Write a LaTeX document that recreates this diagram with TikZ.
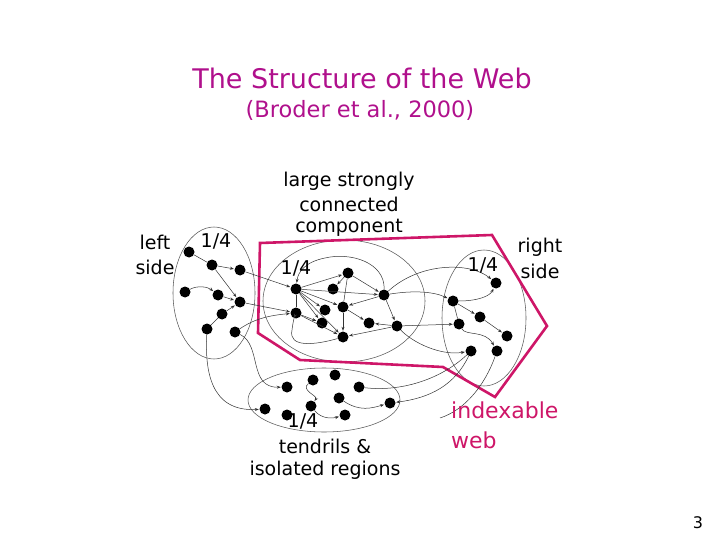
\documentclass[tikz,border=0pt]{standalone}
\usepackage{fontspec}
\setmainfont{DejaVu Sans}
\usetikzlibrary{arrows.meta}
\definecolor{titlecol}{RGB}{176,16,140}
\definecolor{webcol}{RGB}{206,22,104}
\tikzset{
  dot/.style={circle,fill=black,inner sep=0pt,minimum size=11pt},
  lnk/.style={draw=black!80,line width=0.5pt,-{Stealth[length=4pt,width=3pt]},shorten >=0.5pt},
  pln/.style={draw=black!80,line width=0.5pt},
  ring/.style={draw=black!65,line width=0.55pt},
  lbl/.style={inner sep=0pt,font=\fontsize{19}{22}\selectfont},
  ttl/.style={inner sep=0pt,text=titlecol},
}
\begin{document}
\begin{tikzpicture}[x=1pt,y=-1pt]
\useasboundingbox (0,0) rectangle (720,540);
% titles
\node[ttl,font=\fontsize{27}{30}\selectfont] (title) at (362,78) {The Structure of the Web};
\node[ttl,font=\fontsize{22.5}{26}\selectfont] (sub) at (360,110) {(Broder et al., 2000)};
% ellipses
\draw[ring] (214,293) ellipse [x radius=41,y radius=66];
\draw[ring] (344,301) ellipse [x radius=81,y radius=61];
\draw[ring] (484,318) ellipse [x radius=42,y radius=68];
\draw[ring] (324,400) ellipse [x radius=76,y radius=32];
% indexable web polygon
\draw[webcol,line width=2.6pt,line join=miter] (258,333) -- (260,243) -- (492,235) -- (547,326) -- (495,397) -- (443,367) -- (300,360) -- cycle;
% nodes: left
\node[dot] (L1) at (189,252) {};
\node[dot] (L2) at (212,265) {};
\node[dot] (L3) at (240,270) {};
\node[dot] (L4) at (185,292) {};
\node[dot] (L5) at (218,295) {};
\node[dot] (L6) at (240,302) {};
\node[dot] (L7) at (222,314) {};
\node[dot] (L8) at (207,329) {};
\node[dot] (L9) at (235,332) {};
% SCC
\node[dot] (S1) at (296,289) {};
\node[dot] (S2) at (296,313) {};
\node[dot] (S3) at (333,289) {};
\node[dot] (S4) at (348,273) {};
\node[dot] (S5) at (384,295) {};
\node[dot] (S6) at (343,307) {};
\node[dot] (S7) at (325,310) {};
\node[dot] (S8) at (322,323) {};
\node[dot] (S9) at (343,337) {};
\node[dot] (S10) at (369,323) {};
\node[dot] (S11) at (397,326) {};
% right
\node[dot] (R1) at (496,283) {};
\node[dot] (R2) at (453,301) {};
\node[dot] (R3) at (480,317) {};
\node[dot] (R4) at (459,324) {};
\node[dot] (R5) at (507,336) {};
\node[dot] (R6) at (471,351) {};
\node[dot] (R7) at (497,351) {};
% tendrils
\node[dot] (T1) at (287,387) {};
\node[dot] (T2) at (313,380) {};
\node[dot] (T3) at (335,375) {};
\node[dot] (T4) at (359,387) {};
\node[dot] (T5) at (265,409) {};
\node[dot] (T6) at (287,415) {};
\node[dot] (T7) at (311,406) {};
\node[dot] (T8) at (339,398) {};
\node[dot] (T9) at (345,415) {};
\node[dot] (T10) at (390,403) {};
\coordinate (E1) at (440,418);
% left edges
\draw[pln] (L1) -- (L2);
\draw[lnk] (L2) -- (L3);
\draw[lnk] (L2) -- (L6);
\draw[lnk] (L4) .. controls (198,285) and (208,287) .. (L5);
\draw[lnk] (L5) -- (L6);
\draw[lnk] (L7) -- (L6);
\draw[pln] (L8) -- (L7);
\draw[lnk] (L3) -- (S1);
\draw[lnk] (L6) -- (S2);
\draw[lnk] (L9) .. controls (250,322) and (262,316) .. (S2);
\draw[lnk] (L9) .. controls (262,345) and (248,388) .. (T1);
\draw[lnk] (L8) .. controls (205,370) and (210,412) .. (T5);
% SCC edges
\draw[lnk] (S1) -- (S4);
\draw[lnk] (S1) -- (S5);
\draw[lnk] (S1) -- (S6);
\draw[lnk] (S1) -- (S7);
\draw[lnk] (S1) -- (S8);
\draw[lnk] (S1) -- (S9);
\draw[pln] (S1) -- (S2);
\draw[lnk] (S2) -- (S8);
\draw[lnk] (S2) -- (S9);
\draw[lnk] (S4) -- (S3);
\draw[lnk] (S4) -- (S5);
\draw[pln] (S4) -- (S6);
\draw[lnk] (S6) -- (S9);
\draw[lnk] (S5) -- (S6);
\draw[lnk] (S5) -- (S11);
\draw[lnk] (S6) -- (S10);
\draw[lnk] (S11) -- (S10);
\draw[lnk] (S11) -- (S9);
\draw[lnk] (S5) .. controls (385,262) and (350,252) .. (325,258) .. controls (305,262) and (298,272) .. (S1);
\draw[lnk] (S9) .. controls (315,345) and (288,348) .. (292,330) .. controls (293,322) and (294,318) .. (S2);
% SCC to right
\draw[lnk] (S5) .. controls (420,262) and (470,262) .. (R1);
\draw[lnk] (S5) .. controls (415,290) and (435,292) .. (R2);
\draw[lnk] (S11) -- (R4);
\draw[lnk] (S11) .. controls (412,342) and (440,356) .. (R6);
% right edges
\draw[lnk] (R2) .. controls (478,301) and (490,296) .. (R1);
\draw[lnk] (R2) -- (R3);
\draw[lnk] (R3) -- (R5);
\draw[pln] (R2) -- (R4);
\draw[lnk] (R4) .. controls (466,336) and (485,330) .. (R7);
\draw[lnk] (R6) .. controls (455,385) and (430,398) .. (T10);
\draw[pln] (R7) .. controls (485,385) and (465,410) .. (E1);
% tendrils edges
\draw[lnk] (T2) .. controls (300,390) and (318,396) .. (T7);
\draw[lnk] (T7) .. controls (322,420) and (334,418) .. (T9);
\draw[lnk] (T8) .. controls (360,412) and (372,408) .. (T10);
\draw[pln] (T4) .. controls (400,392) and (440,380) .. (R6);
% labels
\node[lbl] (lft) at (155,242) {left};
\node[lbl] (lsd) at (155,267) {side};
\node[lbl] (q1) at (216,241) {1/4};
\node[lbl] (c1) at (349,181) {large strongly};
\node[lbl] (c2) at (349,204) {connected};
\node[lbl] (c3) at (349,228) {component};
\node[lbl] (q2) at (296,268) {1/4};
\node[lbl] (q3) at (483,265) {1/4};
\node[lbl] (rgt) at (540,247) {right};
\node[lbl] (rsd) at (540,271) {side};
\node[lbl] (q4) at (303,421) {1/4};
\node[lbl] (t1) at (325,446) {tendrils \&};
\node[lbl] (t2) at (325,470) {isolated regions};
\node[inner sep=0pt,anchor=west,text=webcol,font=\fontsize{22}{26}\selectfont] (iw1) at (451,410) {indexable};
\node[inner sep=0pt,anchor=west,text=webcol,font=\fontsize{22}{26}\selectfont] (iw2) at (451,440) {web};
\node[inner sep=0pt,font=\rmfamily\fontsize{16}{18}\selectfont] (pg) at (698,523) {3};
\end{tikzpicture}
\end{document}
